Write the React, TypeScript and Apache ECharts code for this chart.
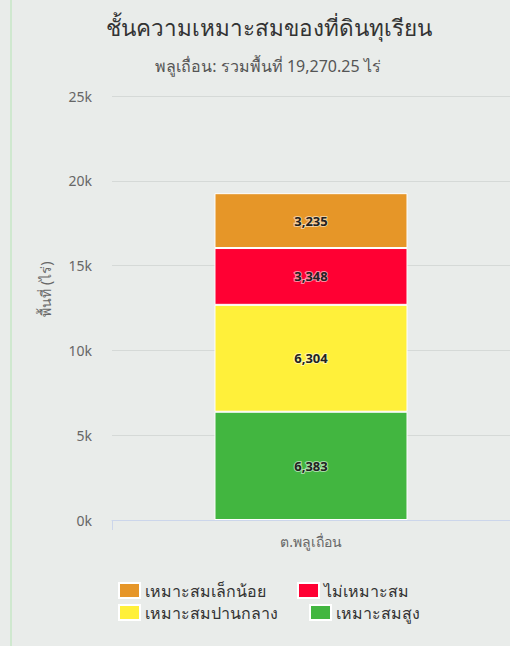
import React, { useEffect, useRef } from "react";
import * as echarts from "echarts";

const categories = ["ต.พลูเถื่อน"];
const seriesNames = ["เหมาะสมสูง", "เหมาะสมปานกลาง", "ไม่เหมาะสม", "เหมาะสมเล็กน้อย"];
const seriesValues = [[6383], [6304], [3348], [3235]];
const seriesColors = ["#42b640", "#fff03a", "#ff0033", "#e69628"];
const yTicks = [0, 5000, 10000, 15000, 20000, 25000];
const titleText = "ชั้นความเหมาะสมของที่ดินทุเรียน";
const subtitleText = "พลูเถื่อน: รวมพื้นที่ 19,270.25 ไร่";
const yAxisName = "พื้นที่ (ไร่)";

const FONT = "Tahoma, 'Noto Sans', 'DejaVu Sans', sans-serif";

export default function App() {
  const ref = useRef<HTMLDivElement>(null);
  useEffect(() => {
    if (!ref.current) return;
    const chart = echarts.init(ref.current, null, { renderer: "svg" });
    const series = seriesNames.map((name, i) => ({
      name,
      type: "bar",
      stack: "total",
      barWidth: "48.5%",
      data: seriesValues[i],
      itemStyle: { color: seriesColors[i], borderColor: "#ffffff", borderWidth: 1 },
      label: {
        show: true,
        position: "inside",
        formatter: (p: any) => Number(p.value).toLocaleString("en-US"),
        color: "#222",
        fontSize: 13,
        fontWeight: "bold",
        fontFamily: FONT,
        textBorderColor: "rgba(255,255,255,0.55)",
        textBorderWidth: 2,
      },
    }));
    const legendText = { fontSize: 16, lineHeight: 16, color: "#333", fontFamily: FONT };
    chart.setOption({
      animation: false,
      backgroundColor: "#e9ecea",
      textStyle: { fontFamily: FONT },
      title: [
        {
          text: titleText,
          left: 264,
          top: 11,
          textAlign: "center",
          textStyle: { fontSize: 22.5, fontWeight: "normal", color: "#333", fontFamily: FONT },
        },
        {
          text: subtitleText,
          left: 263,
          top: 53,
          textAlign: "center",
          textStyle: { fontSize: 16, fontWeight: "normal", color: "#555", fontFamily: FONT },
        },
      ],
      legend: [
        {
          data: ["เหมาะสมเล็กน้อย", "ไม่เหมาะสม"],
          left: 118,
          top: 582,
          padding: 0,
          itemWidth: 21,
          itemHeight: 15,
          itemGap: 31,
          icon: "rect",
          textStyle: legendText,
        },
        {
          data: ["เหมาะสมปานกลาง", "เหมาะสมสูง"],
          left: 118,
          top: 604,
          padding: 0,
          itemWidth: 21,
          itemHeight: 15,
          itemGap: 31,
          icon: "rect",
          textStyle: legendText,
        },
      ],
      grid: { left: 112, right: -2, top: 96, bottom: 126, containLabel: false },
      xAxis: {
        type: "category",
        data: categories,
        axisLine: { lineStyle: { color: "#ccd6eb" } },
        axisTick: { show: true, length: 10, lineStyle: { color: "#ccd6eb" } },
        axisLabel: { color: "#666", fontSize: 14, margin: 14, fontFamily: FONT },
      },
      yAxis: {
        type: "value",
        min: yTicks[0],
        max: yTicks[yTicks.length - 1],
        interval: 5000,
        axisLine: { show: false },
        axisTick: { show: false },
        axisLabel: {
          color: "#666",
          fontSize: 14,
          margin: 20,
          fontFamily: FONT,
          formatter: (v: number) => v / 1000 + "k",
        },
        splitLine: { lineStyle: { color: "#d5d9d7" } },
      },
      graphic: [
        { type: "rect", left: 10, top: 0, shape: { width: 2, height: 646 }, style: { fill: "#cfe8cf" } },
        {
          type: "text",
          x: 45,
          y: 289,
          rotation: Math.PI / 2,
          style: {
            text: yAxisName,
            fill: "#666",
            fontSize: 14,
            fontFamily: FONT,
            align: "center",
            verticalAlign: "middle",
          },
        },
      ],
      series,
    });
    return () => chart.dispose();
  }, []);
  return (
    <div
      ref={ref}
      style={{ position: "fixed", left: 0, top: 0, width: 510, height: 646 }}
    />
  );
}
